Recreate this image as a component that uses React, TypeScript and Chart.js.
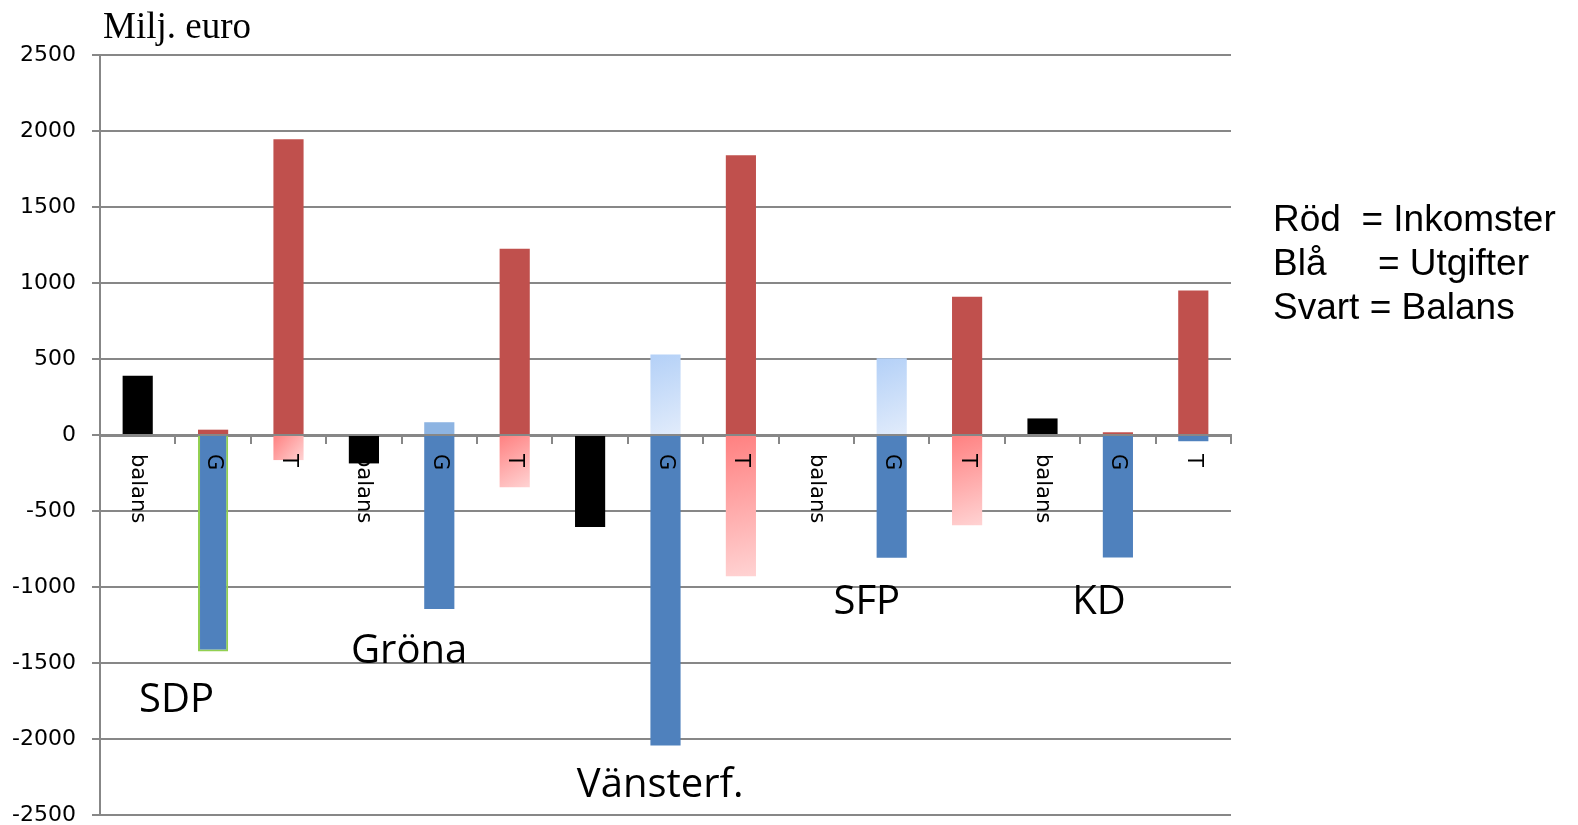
import React, { useEffect, useRef } from 'react';
import { Chart, registerables } from 'chart.js';

Chart.register(...registerables);

// ---------- data ----------
const categories = ['balans', 'G', 'T', 'balans', 'G', 'T', 'balans', 'G', 'T', 'balans', 'G', 'T', 'balans', 'G', 'T'];
const parties = ['SDP', 'Gröna', 'Vänsterf.', 'SFP', 'KD'];

// Red: income (positive)
const inkomster = [0, 35, 1945, 0, 0, 1225, 0, 0, 1840, 0, 0, 910, 0, 18, 950];
// Pink (gradient): income changes below zero
const inkomsterNeg = [0, 0, -165, 0, 0, -343, 0, 0, -929, 0, 0, -593, 0, 0, 0];
// Blue: expenditure (negative)
const utgifter = [0, -1425, 0, 0, -1145, 0, 0, -2042, 0, 0, -808, 0, 0, -806, -41];
// Light blue: expenditure above zero
const utgifterPos = [0, 0, 0, 0, 84, 0, 0, 530, 0, 0, 505, 0, 0, 0, 0];
// Black: balance
const balans = [390, 0, 0, -187, 0, 0, -606, 0, 0, 0, 0, 0, 109, 0, 0];

const yMin = -2500;
const yMax = 2500;
const yStep = 500;

const unitLabel = 'Milj. euro';
const legendLines = ['Röd  = Inkomster', 'Blå     = Utgifter', 'Svart = Balans'];

// annotation anchors (category index units, value units)
const partyLabelX = [0.515, 3.6, 6.93, 9.67, 12.75];
const partyLabelY = [-1820, -1500, -2380, -1175, -1175];

// ---------- styles ----------
const BAR_PCT = 0.4;
const GRAY = '#878787';
const RED = '#C0504D';
const BLUE = '#4F81BD';
const LIGHT_BLUE = '#8DB4E2';
const PINK_STOPS: [string, string] = ['#FF8080', '#FFD3D3'];
const SKY_STOPS: [string, string] = ['#B3D0F7', '#E2ECFB'];

function barGradient(c: any, stops: [string, string]) {
  const chart = c.chart;
  if (!chart.chartArea || !chart.scales.x || !chart.scales.y) return stops[0];
  const xs = chart.scales.x;
  const ys = chart.scales.y;
  const v = typeof c.raw === 'number' ? c.raw : 0;
  const cx = xs.getPixelForValue(c.dataIndex);
  const half = ((xs.width / categories.length) * BAR_PCT) / 2;
  const a = ys.getPixelForValue(0);
  const b = ys.getPixelForValue(v);
  const g = chart.ctx.createLinearGradient(cx - half, Math.min(a, b), cx + half, Math.max(a, b) + 0.01);
  g.addColorStop(0, stops[0]);
  g.addColorStop(1, stops[1]);
  return g;
}

const textPlugin = {
  id: 'textPlugin',
  afterDraw(chart: any) {
    const { ctx, chartArea, scales } = chart;
    const x = scales.x;
    const y = scales.y;
    ctx.save();
    ctx.fillStyle = '#000';

    // rotated category labels just under the zero line
    const y0 = y.getPixelForValue(0);
    ctx.font = '21px "DejaVu Sans"';
    categories.forEach((lab, i) => {
      ctx.save();
      ctx.translate(x.getPixelForValue(i), y0 + 19);
      ctx.rotate(Math.PI / 2);
      ctx.textAlign = 'left';
      ctx.textBaseline = 'middle';
      ctx.fillText(lab, 0, 0);
      ctx.restore();
    });

    // party names
    ctx.font = '40px "Open Sans"';
    ctx.textAlign = 'center';
    ctx.textBaseline = 'alphabetic';
    parties.forEach((p, i) => {
      ctx.fillText(p, x.getPixelForValue(partyLabelX[i]), y.getPixelForValue(partyLabelY[i]));
    });

    // unit label
    ctx.font = '37px "Liberation Serif"';
    ctx.textAlign = 'left';
    ctx.fillText(unitLabel, chartArea.left + 3, chartArea.top - 17);

    // legend text
    ctx.font = '37px "Liberation Sans"';
    legendLines.forEach((line, i) => {
      ctx.fillText(line, chartArea.right + 42, chartArea.top + 176 + i * 44);
    });
    ctx.restore();
  },
};

export default function App() {
  const canvasRef = useRef<HTMLCanvasElement | null>(null);

  useEffect(() => {
    document.body.style.margin = '0';
    document.body.style.overflow = 'hidden';
    const canvas = canvasRef.current;
    if (!canvas) return;

    const common = {
      barPercentage: BAR_PCT,
      categoryPercentage: 1,
      borderWidth: 0,
    };

    const chart = new Chart(canvas, {
      type: 'bar',
      data: {
        labels: categories,
        datasets: [
          { label: 'Inkomster', data: inkomster, backgroundColor: RED, ...common },
          {
            label: 'Inkomster (neg)',
            data: inkomsterNeg,
            backgroundColor: (c: any) => barGradient(c, PINK_STOPS),
            ...common,
          },
          {
            label: 'Utgifter',
            data: utgifter,
            backgroundColor: BLUE,
            ...common,
            borderColor: '#92D050',
            borderWidth: (c: any) => (c.dataIndex === 1 ? 2 : 0),
          },
          {
            label: 'Utgifter (pos)',
            data: utgifterPos,
            backgroundColor: (c: any) => (c.dataIndex === 4 ? LIGHT_BLUE : barGradient(c, SKY_STOPS)),
            ...common,
          },
          { label: 'Balans', data: balans, backgroundColor: '#000000', ...common },
        ],
      },
      options: {
        responsive: false,
        animation: false,
        devicePixelRatio: 1,
        layout: { padding: { left: 0, right: 347, top: 55, bottom: 10 } },
        plugins: {
          legend: { display: false },
          tooltip: { enabled: false },
          title: { display: false },
        },
        scales: {
          x: {
            type: 'category',
            stacked: true,
            position: { y: 0 } as any,
            z: 1,
            afterFit: (scale: any) => {
              scale.height = 0;
            },
            grid: {
              offset: true,
              drawOnChartArea: false,
              drawTicks: true,
              tickLength: 7,
              color: GRAY,
              lineWidth: 2,
            },
            border: { display: true, color: GRAY, width: 3 },
            ticks: { display: false },
          },
          y: {
            stacked: true,
            min: yMin,
            max: yMax,
            afterFit: (scale: any) => {
              scale.width = 100;
              scale.paddingTop = 0;
              scale.paddingBottom = 0;
            },
            ticks: {
              stepSize: yStep,
              padding: 16,
              color: '#000',
              font: { family: '"DejaVu Sans"', size: 22, lineHeight: 1 },
              callback: (v: any) => String(v),
            },
            grid: {
              color: GRAY,
              lineWidth: 2,
              drawTicks: true,
              tickLength: 8,
            },
            border: { display: true, color: GRAY, width: 2 },
          },
        },
      },
      plugins: [textPlugin],
    });

    return () => chart.destroy();
  }, []);

  return (
    <div style={{ width: 1578, height: 825, position: 'relative', background: '#fff' }}>
      <canvas ref={canvasRef} width={1578} height={825} style={{ display: 'block' }} />
    </div>
  );
}
